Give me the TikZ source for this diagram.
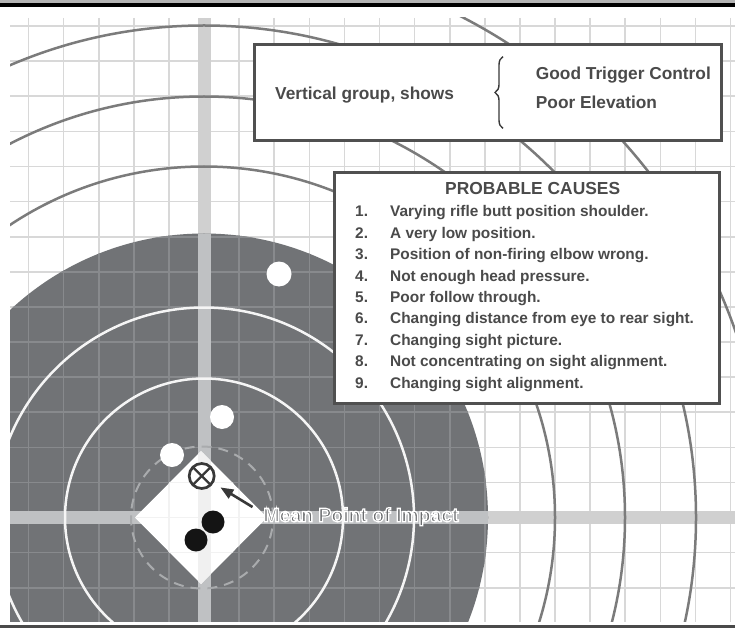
\documentclass[tikz,border=0pt]{standalone}
\usepackage{fontspec}
\setmainfont{Liberation Sans}
\usetikzlibrary{arrows.meta,decorations.pathreplacing}
\definecolor{diskc}{HTML}{717376}
\definecolor{gridw}{HTML}{D8D8D8}
\definecolor{gridd}{HTML}{888A8D}
\definecolor{bandw}{HTML}{D0D0D0}
\definecolor{bandd}{HTML}{BFC1C3}
\definecolor{oringc}{HTML}{7B7B7B}
\definecolor{txtc}{HTML}{4A4A4A}
\definecolor{boxc}{HTML}{505050}
\definecolor{mpic}{HTML}{6A6C6E}
\definecolor{symc}{HTML}{383838}
\definecolor{dashc}{HTML}{A9ABAD}
\definecolor{barg}{HTML}{B4B4B4}
\definecolor{botc}{HTML}{4A4A4A}
\newcommand{\halotext}[1]{\special{pdf:code 2 Tr 1 1 1 RG 1.3 w}#1\special{pdf:code 0 Tr}}
\tikzset{
  gline/.style={line width=1.6pt},
  wring/.style={draw=white!96!black, line width=2.5pt},
  oring/.style={draw=oringc, line width=2.5pt},
  boxst/.style={draw=boxc, line width=2.7pt, fill=white, rectangle, inner sep=0pt},
  bigtxt/.style={font=\fontsize{17.3}{20}\selectfont\bfseries, text=txtc, anchor=base west, inner sep=0pt},
  listtxt/.style={font=\fontsize{15.4}{18}\selectfont\bfseries, text=txtc, anchor=base west, inner sep=0pt},
  mpitxt/.style={font=\fontsize{19.4}{22}\selectfont\bfseries, anchor=base west, inner sep=0pt},
  wdot/.style={fill=white},
  bdot/.style={fill=black!92},
}
\begin{document}
\begin{tikzpicture}[x=1pt,y=-1pt]
\useasboundingbox (0,0) rectangle (735,628);
\fill[white] (0,0) rectangle (735,628);
% frame bars
\fill[barg] (0,0) rectangle (735,3.3);
\fill[black] (0,3.3) rectangle (735,6.8);
\fill[botc] (0,625) rectangle (735,628);
% target
\begin{scope}
  \clip (10,18) rectangle (735,621.7);
  \foreach \k in {-5,...,15} \draw[gline, gridw] ({204+\k*35.1},18) -- ({204+\k*35.1},621.7);
  \foreach \k in {-14,...,3} \draw[gline, gridw] (10,{517.5+\k*35.1}) -- (735,{517.5+\k*35.1});
  \fill[bandw] (197.5,18) rectangle (210.5,621.7);
  \fill[bandw] (10,511) rectangle (735,524);
  \fill[diskc] (204,517.5) circle (284pt);
  \begin{scope}
    \clip (204,517.5) circle (284pt);
    \foreach \k in {-5,...,15} \draw[gline, gridd] ({204+\k*35.1},18) -- ({204+\k*35.1},621.7);
    \foreach \k in {-14,...,3} \draw[gline, gridd] (10,{517.5+\k*35.1}) -- (735,{517.5+\k*35.1});
    \fill[bandd] (197.5,18) rectangle (210.5,621.7);
    \fill[bandd] (10,511) rectangle (735,524);
  \end{scope}
  \draw[wring] (204,517.5) circle (139pt);
  \draw[wring] (204,517.5) circle (210pt);
  \foreach \r in {351,421,492,563} \draw[oring] (204,517.5) circle (\r pt);
  % diamond
  \fill[white] (201,451) -- (267,517.5) -- (201,584) -- (135,517.5) -- cycle;
  \begin{scope}
    \clip (201,451) -- (267,517.5) -- (201,584) -- (135,517.5) -- cycle;
    \foreach \k in {-2,...,2} \draw[gline, black!5] ({204+\k*35.1},440) -- ({204+\k*35.1},600);
    \foreach \k in {-2,...,2} \draw[gline, black!5] (120,{517.5+\k*35.1}) -- (280,{517.5+\k*35.1});
    \fill[black!6] (197.5,440) rectangle (210.5,600);
  \end{scope}
  \draw[dashc, line width=2pt, dash pattern=on 10pt off 7pt] (202,517.5) circle (71pt);
\end{scope}
% shots
\fill[wdot] (279,274) circle (12.5pt);
\fill[wdot] (222,417) circle (12pt);
\fill[wdot] (172,455) circle (12pt);
\fill[bdot] (213,522) circle (11.5pt);
\fill[bdot] (196,540) circle (11.5pt);
% mean point of impact symbol
\node[circle, draw=symc, line width=2.7pt, minimum size=25pt, inner sep=0pt, fill=white] (mpi) at (201.7,476) {};
\draw[symc, line width=2.2pt] (mpi.center) +(45:12.5) -- +(225:12.5);
\draw[symc, line width=2.2pt] (mpi.center) +(135:12.5) -- +(315:12.5);
% label, outlined in white
\node[mpitxt, text=mpic] (mpit) at (263.3,521.7) {\halotext{Mean Point of Impact}};
\coordinate (arrs) at (252.5,507);
\draw[symc, line width=2.6pt, -{Triangle[length=13pt,width=10pt]}, shorten >=8pt] (arrs) -- (mpi);
% box 1
\node[boxst, minimum width=467.3pt, minimum height=96.3pt] (box1) at (488,92.5) {};
\node[bigtxt] (vg) at (275,99.3) {Vertical group, shows};
\node[bigtxt] (gtc) at (535.7,80) {Good Trigger Control};
\node[bigtxt] (pe) at (535.7,108.3) {Poor Elevation};
\draw[symc, line width=1.4pt, decorate, decoration={brace, amplitude=8pt}] (503,128.3) -- (503,56.7);
% box 2
\node[boxst, minimum width=384.5pt, minimum height=231.3pt] (box2) at (526.9,288) {};
\node[listtxt, font=\fontsize{17.4}{20}\selectfont\bfseries] (title) at (445,194.3) {PROBABLE CAUSES};
\foreach \t [count=\i] in {Varying rifle butt position shoulder., A very low position., Position of non-firing elbow wrong., Not enough head pressure., Poor follow through., Changing distance from eye to rear sight., Changing sight picture., Not concentrating on sight alignment., Changing sight alignment.} {
  \node[listtxt] (n\i) at (355,{216.7+(\i-1)*21.45}) {\i.};
  \node[listtxt] (c\i) at (390,{216.7+(\i-1)*21.45}) {\t};
}
\end{tikzpicture}
\end{document}
